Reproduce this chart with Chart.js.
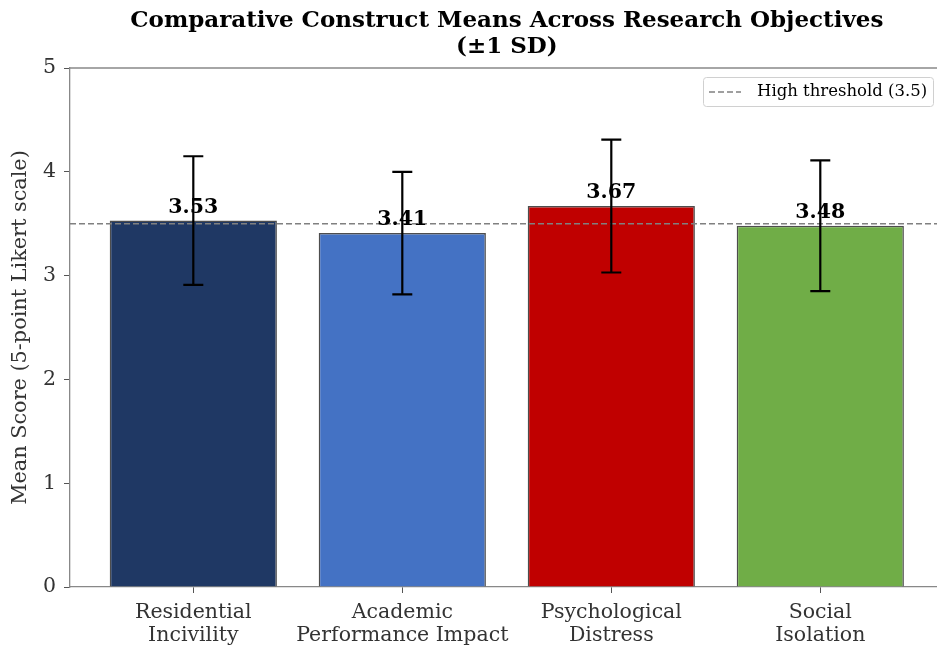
<!DOCTYPE html>
<html>
<head>
<meta charset="utf-8">
<script src="https://cdn.jsdelivr.net/npm/chart.js@4.4.1/dist/chart.umd.min.js"></script>
<style>
  html, body { margin: 0; padding: 0; background: #ffffff; overflow: hidden; }
  #wrap { position: relative; width: 950px; height: 645px; }
</style>
</head>
<body>
<div id="wrap"><canvas id="chart"></canvas></div>
<script>
// Construct categories (two-line tick labels) and their summary statistics
const categories = [
  ['Residential', 'Incivility'],
  ['Academic', 'Performance Impact'],
  ['Psychological', 'Distress'],
  ['Social', 'Isolation']
];
const means = [3.53, 3.41, 3.67, 3.48];
const sds = [0.62, 0.59, 0.64, 0.63];
const barColors = ['#1f3864', '#4472c4', '#c00000', '#70ad47'];
const yTicks = [0, 1, 2, 3, 4, 5];
const threshold = 3.5;
const thresholdLabel = 'High threshold (3.5)';
const titleLines = ['Comparative Construct Means Across Research Objectives', '(±1 SD)'];

const SERIF = "'DejaVu Serif', serif";
const xMin = -0.59, xMax = 3.59;

// Title centred over the plot area, mean labels, ±1 SD whiskers and legend
const annotatePlugin = {
  id: 'annotate',
  afterDatasetsDraw(chart) {
    const { ctx, scales: { x, y }, chartArea } = chart;
    ctx.save();
    // value labels
    ctx.fillStyle = '#000000';
    ctx.font = 'bold 20.5px ' + SERIF;
    ctx.textAlign = 'center';
    ctx.textBaseline = 'alphabetic';
    means.forEach((m, i) => {
      ctx.fillText(m.toFixed(2), x.getPixelForValue(i), y.getPixelForValue(m) - 8);
    });
    // whiskers
    ctx.strokeStyle = '#000000';
    ctx.lineWidth = 2.2;
    means.forEach((m, i) => {
      const cx = x.getPixelForValue(i);
      const top = y.getPixelForValue(m + sds[i]);
      const bot = y.getPixelForValue(m - sds[i]);
      ctx.beginPath();
      ctx.moveTo(cx, top); ctx.lineTo(cx, bot);
      ctx.moveTo(cx - 10, top); ctx.lineTo(cx + 10, top);
      ctx.moveTo(cx - 10, bot); ctx.lineTo(cx + 10, bot);
      ctx.stroke();
    });
    // top spine
    ctx.strokeStyle = '#888888';
    ctx.lineWidth = 1.3;
    ctx.beginPath();
    ctx.moveTo(chartArea.left, chartArea.top);
    ctx.lineTo(chartArea.right, chartArea.top);
    ctx.stroke();
    ctx.restore();
  },
  afterDraw(chart) {
    const { ctx, chartArea } = chart;
    ctx.save();
    // title
    const tx = (chartArea.left + chartArea.right) / 2;
    ctx.fillStyle = '#000000';
    ctx.font = 'bold 23px ' + SERIF;
    ctx.textAlign = 'center';
    ctx.textBaseline = 'middle';
    titleLines.forEach((line, i) => ctx.fillText(line, tx, 21 + i * 26.5));

    // legend box in the upper-right corner of the plot
    const boxW = 230, boxH = 29;
    const bx = chartArea.right - 10.6 - boxW;
    const by = chartArea.top + 9;
    ctx.fillStyle = 'rgba(255,255,255,0.9)';
    ctx.strokeStyle = '#d0d0d0';
    ctx.lineWidth = 1;
    ctx.beginPath();
    ctx.roundRect(bx + 0.5, by + 0.5, boxW, boxH, 3);
    ctx.fill();
    ctx.stroke();
    const cy = by + boxH / 2 + 0.5;
    ctx.strokeStyle = '#808080';
    ctx.lineWidth = 1.6;
    ctx.setLineDash([6, 3]);
    ctx.beginPath();
    ctx.moveTo(bx + 6, cy);
    ctx.lineTo(bx + 38, cy);
    ctx.stroke();
    ctx.setLineDash([]);
    ctx.fillStyle = '#000000';
    ctx.font = '16.5px ' + SERIF;
    ctx.textAlign = 'left';
    ctx.textBaseline = 'middle';
    ctx.fillText(thresholdLabel, bx + 54, cy);
    ctx.restore();
  }
};

new Chart(document.getElementById('chart'), {
  type: 'bar',
  data: {
    datasets: [
      {
        type: 'line',
        label: thresholdLabel,
        data: [{ x: xMin, y: threshold }, { x: xMax, y: threshold }],
        borderColor: '#808080',
        borderWidth: 1.6,
        borderDash: [6, 3],
        pointRadius: 0,
        fill: false,
        order: 0
      },
      {
        label: 'Mean',
        data: means.map((m, i) => ({ x: i, y: m })),
        backgroundColor: barColors,
        borderColor: '#4d4d4d',
        borderWidth: 1.5,
        barPercentage: 0.8,
        categoryPercentage: 1.0,
        order: 1
      }
    ]
  },
  options: {
    responsive: true,
    maintainAspectRatio: false,
    animation: false,
    layout: { padding: { left: 0, right: 6.4, top: 68, bottom: 0 } },
    plugins: {
      legend: { display: false },
      tooltip: { enabled: false },
      title: { display: false }
    },
    scales: {
      x: {
        type: 'linear',
        min: xMin,
        max: xMax,
        offset: false,
        afterBuildTicks(scale) {
          scale.ticks = categories.map((c, i) => ({ value: i }));
        },
        afterFit(scale) { scale.height = 58; },
        ticks: {
          callback: (v) => categories[v],
          color: '#333333',
          font: { family: SERIF, size: 20.5, lineHeight: 1.13 },
          padding: 8,
          maxRotation: 0,
          autoSkip: false
        },
        grid: { display: true, drawOnChartArea: false, drawTicks: true, tickLength: 6, color: '#555555', offset: false },
        border: { display: true, color: '#888888', width: 1.3 }
      },
      y: {
        min: 0,
        max: 5,
        afterBuildTicks(scale) {
          scale.ticks = yTicks.map(v => ({ value: v }));
        },
        afterFit(scale) { scale.width = 70; },
        ticks: {
          color: '#333333',
          font: { family: SERIF, size: 20.5 },
          padding: 8
        },
        grid: { display: true, drawOnChartArea: false, drawTicks: true, tickLength: 6, color: '#555555' },
        border: { display: true, color: '#888888', width: 1.3 },
        title: {
          display: true,
          text: 'Mean Score (5-point Likert scale)',
          color: '#333333',
          font: { family: SERIF, size: 20.8, lineHeight: 1.2 },
          padding: { top: 8, bottom: 0 }
        }
      }
    }
  },
  plugins: [annotatePlugin]
});
</script>
</body>
</html>
